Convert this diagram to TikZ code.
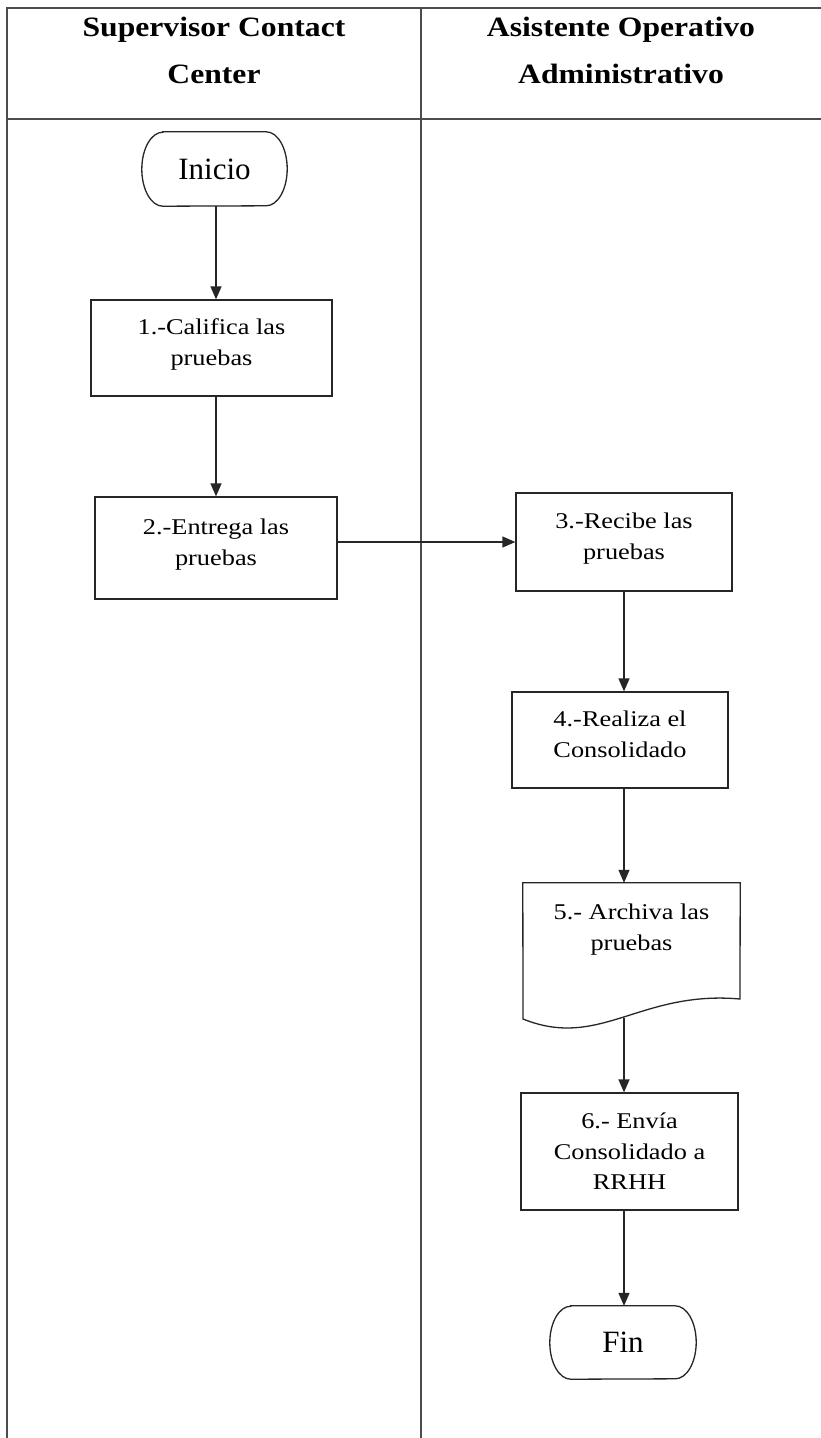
\documentclass[tikz,border=0pt]{standalone}
\usepackage{fontspec}
\setmainfont{Liberation Serif}[FakeStretch=1.17]
\newfontfamily\termfont{Liberation Serif}
\newfontfamily\headfont{Liberation Serif}[FakeStretch=1.13]
\usetikzlibrary{arrows.meta}
\newcommand\drawterm[2]{% node name, end radius
  \draw[outline] ([xshift=#2]#1.north west) -- ([xshift=-#2]#1.north east)
    arc[start angle=90, end angle=-90, x radius=#2, y radius=0.5*\termh]
    -- ([xshift=#2]#1.south west)
    arc[start angle=270, end angle=90, x radius=#2, y radius=0.5*\termh] -- cycle;}
\begin{document}
\begin{tikzpicture}[x=1pt,y=-1pt,
  frame/.style={line width=1.3pt, draw=black!70},
  outline/.style={draw=black!85, line width=1.3pt},
  proc/.style={outline, rectangle, inner sep=0pt, align=center,
    font=\fontsize{22.5}{30.5}\selectfont},
  lowtxt/.style={text depth=12pt},
  txt/.style={inner sep=0pt, align=center, font=\fontsize{22.5}{30.5}\selectfont},
  term/.style={rectangle, inner sep=0pt, font=\termfont\fontsize{31}{36}\selectfont},
  head/.style={inner sep=0pt, align=center, font=\headfont\bfseries\fontsize{28}{47}\selectfont},
  arr/.style={outline, -{Triangle[length=13pt,width=11pt]}}
]
\useasboundingbox (0,0) rectangle (821,1438);
\fill[white] (0,0) rectangle (821,1438);

% table frame
\draw[frame] (7,1438) -- (7,8) -- (821,8);
\draw[frame] (7,119) -- (821,119);
\draw[frame] (421,8) -- (421,1438);

% headers
\node[head] (h1) at (214,50) {Supervisor Contact\\Center};
\node[head] (h2) at (621,50) {Asistente Operativo\\Administrativo};

% left lane
\node[term, minimum width=145pt, minimum height=74pt] (ini) at (214.5,169) {Inicio};
\def\termh{74pt}\drawterm{ini}{21pt}
\node[proc, lowtxt, minimum width=241pt, minimum height=96pt] (b1) at (211.5,348) {1.-Califica las\\pruebas};
\node[proc, lowtxt, minimum width=242pt, minimum height=102pt] (b2) at (216,548) {2.-Entrega las\\pruebas};

% right lane
\node[proc, lowtxt, minimum width=216pt, minimum height=98pt] (b3) at (624,542) {3.-Recibe las\\pruebas};
\node[proc, lowtxt, minimum width=216pt, minimum height=96pt] (b4) at (620,740) {4.-Realiza el\\Consolidado};
\node[inner sep=0pt, minimum width=217pt, minimum height=136pt] (b5) at (631.5,951) {};
\draw[outline] (b5.north west) -- (b5.north east) -- (740,999)
  .. controls (640,990) and (600,1050) .. (523,1019) -- cycle;
\node[txt] (t5) at (631.5,929.5) {5.- Archiva las\\pruebas};
\coordinate (w5) at (624,1018);
\node[proc, minimum width=217pt, minimum height=117pt] (b6) at (629.5,1151.5) {6.- Envía\\Consolidado a\\RRHH};
\node[term, minimum width=146pt, minimum height=73pt] (fin) at (623,1342.5) {Fin};
\def\termh{73pt}\drawterm{fin}{21pt}

% connectors
\coordinate (lc) at (216,0);
\coordinate (rc) at (624,0);
\draw[arr] (lc |- ini.south) -- (lc |- b1.north);
\draw[arr] (lc |- b1.south) -- (lc |- b2.north);
\draw[arr] (b2.east |- b3.west) -- (b3.west);
\draw[arr] (rc |- b3.south) -- (rc |- b4.north);
\draw[arr] (rc |- b4.south) -- (rc |- b5.north);
\draw[arr] (w5) -- (rc |- b6.north);
\draw[arr] (rc |- b6.south) -- (rc |- fin.north);
\end{tikzpicture}
\end{document}
